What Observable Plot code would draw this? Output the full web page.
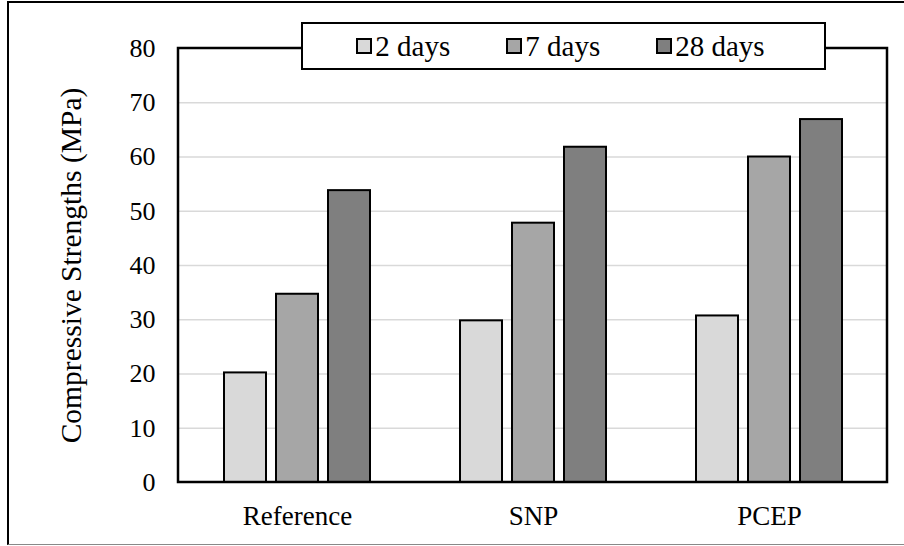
<!DOCTYPE html>
<html>
<head>
<meta charset="utf-8">
<script src="https://cdn.jsdelivr.net/npm/d3@7"></script>
<script src="https://cdn.jsdelivr.net/npm/@observablehq/plot@0.6"></script>
<style>
  html, body { margin: 0; padding: 0; background: #fff; }
  #wrap { position: relative; width: 904px; height: 546px; overflow: hidden; font-family: "Liberation Serif", serif; }
  #outer { position: absolute; left: 7px; top: 1px; width: 897px; height: 541px; border-top: 2px solid #000; border-left: 2px solid #000; border-bottom: 1px solid #888; pointer-events: none; }
  #legend { position: absolute; left: 301px; top: 22px; width: 515px; height: 44px; border: 2px solid #000; background: #fff;
    display: flex; align-items: center; justify-content: center; gap: 56px; font-size: 29px; color: #000; padding-right: 6px; box-sizing: content-box; font-family: "Liberation Serif", serif; }
  .item { display: flex; align-items: center; }
  .sw { width: 12px; height: 12px; border: 2px solid #000; margin-right: 3px; }
</style>
</head>
<body>
<div id="wrap">
  <div id="chart"></div>
  <div id="outer"></div>
  <div id="legend"></div>
</div>
<script>
const groups = ["Reference", "SNP", "PCEP"];
const series = ["2 days", "7 days", "28 days"];
const days2 = [20.2, 29.8, 30.7];
const days7 = [34.7, 47.8, 60.0];
const days28 = [53.8, 61.8, 66.9];
const colors = ["#d9d9d9", "#a6a6a6", "#7f7f7f"];
const yTicks = [0, 10, 20, 30, 40, 50, 60, 70, 80];
const yLabel = "Compressive Strengths (MPa)";

const seriesValues = [days2, days7, days28];
const data = groups.flatMap((g, i) => series.map((s, j) => ({group: g, series: s, value: seriesValues[j][i]})));

const W = 904, H = 546, mL = 178, mR = 17, mT = 48, mB = 64;
const FONT = "Liberation Serif";

const plot = Plot.plot({
  width: W, height: H,
  marginLeft: mL, marginRight: mR, marginTop: mT, marginBottom: mB,
  style: {fontFamily: FONT, fontSize: "26px", color: "#000", background: "transparent", overflow: "visible"},
  fx: {domain: groups, padding: 0, label: null, axis: null},
  x: {domain: series, paddingInner: 0.19, paddingOuter: 0.85, axis: null},
  y: {domain: [0, 80], axis: null},
  color: {domain: series, range: colors},
  marks: [
    Plot.gridY(yTicks.filter(t => t > 0 && t < 80), {stroke: "#d9d9d9", strokeOpacity: 1, strokeWidth: 1.5}),
    Plot.barY(data, {fx: "group", x: "series", y: "value", fill: "series", stroke: "#000", strokeWidth: 2}),
    Plot.axisY({ticks: yTicks, tickSize: 0, tickPadding: 24, fontSize: 26, label: null, fontFamily: FONT}),
    Plot.axisY({ticks: [], tickSize: 0, label: yLabel, labelArrow: "none", labelAnchor: "center", labelOffset: 119, fontSize: 29.5, fontFamily: FONT}),
    Plot.axisFx({anchor: "bottom", tickSize: 0, tickPadding: 23, fontSize: 27, label: null, fontFamily: FONT})
  ]
});

const y = plot.scale("y");
d3.select(plot).append("rect")
  .attr("x", mL).attr("y", y.apply(80))
  .attr("width", W - mL - mR).attr("height", y.apply(0) - y.apply(80))
  .attr("fill", "none").attr("stroke", "#000").attr("stroke-width", 2.5);

document.getElementById("chart").appendChild(plot);

const legend = document.getElementById("legend");
series.forEach((s, i) => {
  const it = document.createElement("div");
  it.className = "item";
  const sw = document.createElement("div");
  sw.className = "sw";
  sw.style.background = colors[i];
  const t = document.createElement("span");
  t.textContent = s;
  it.appendChild(sw); it.appendChild(t);
  legend.appendChild(it);
});
</script>
</body>
</html>
